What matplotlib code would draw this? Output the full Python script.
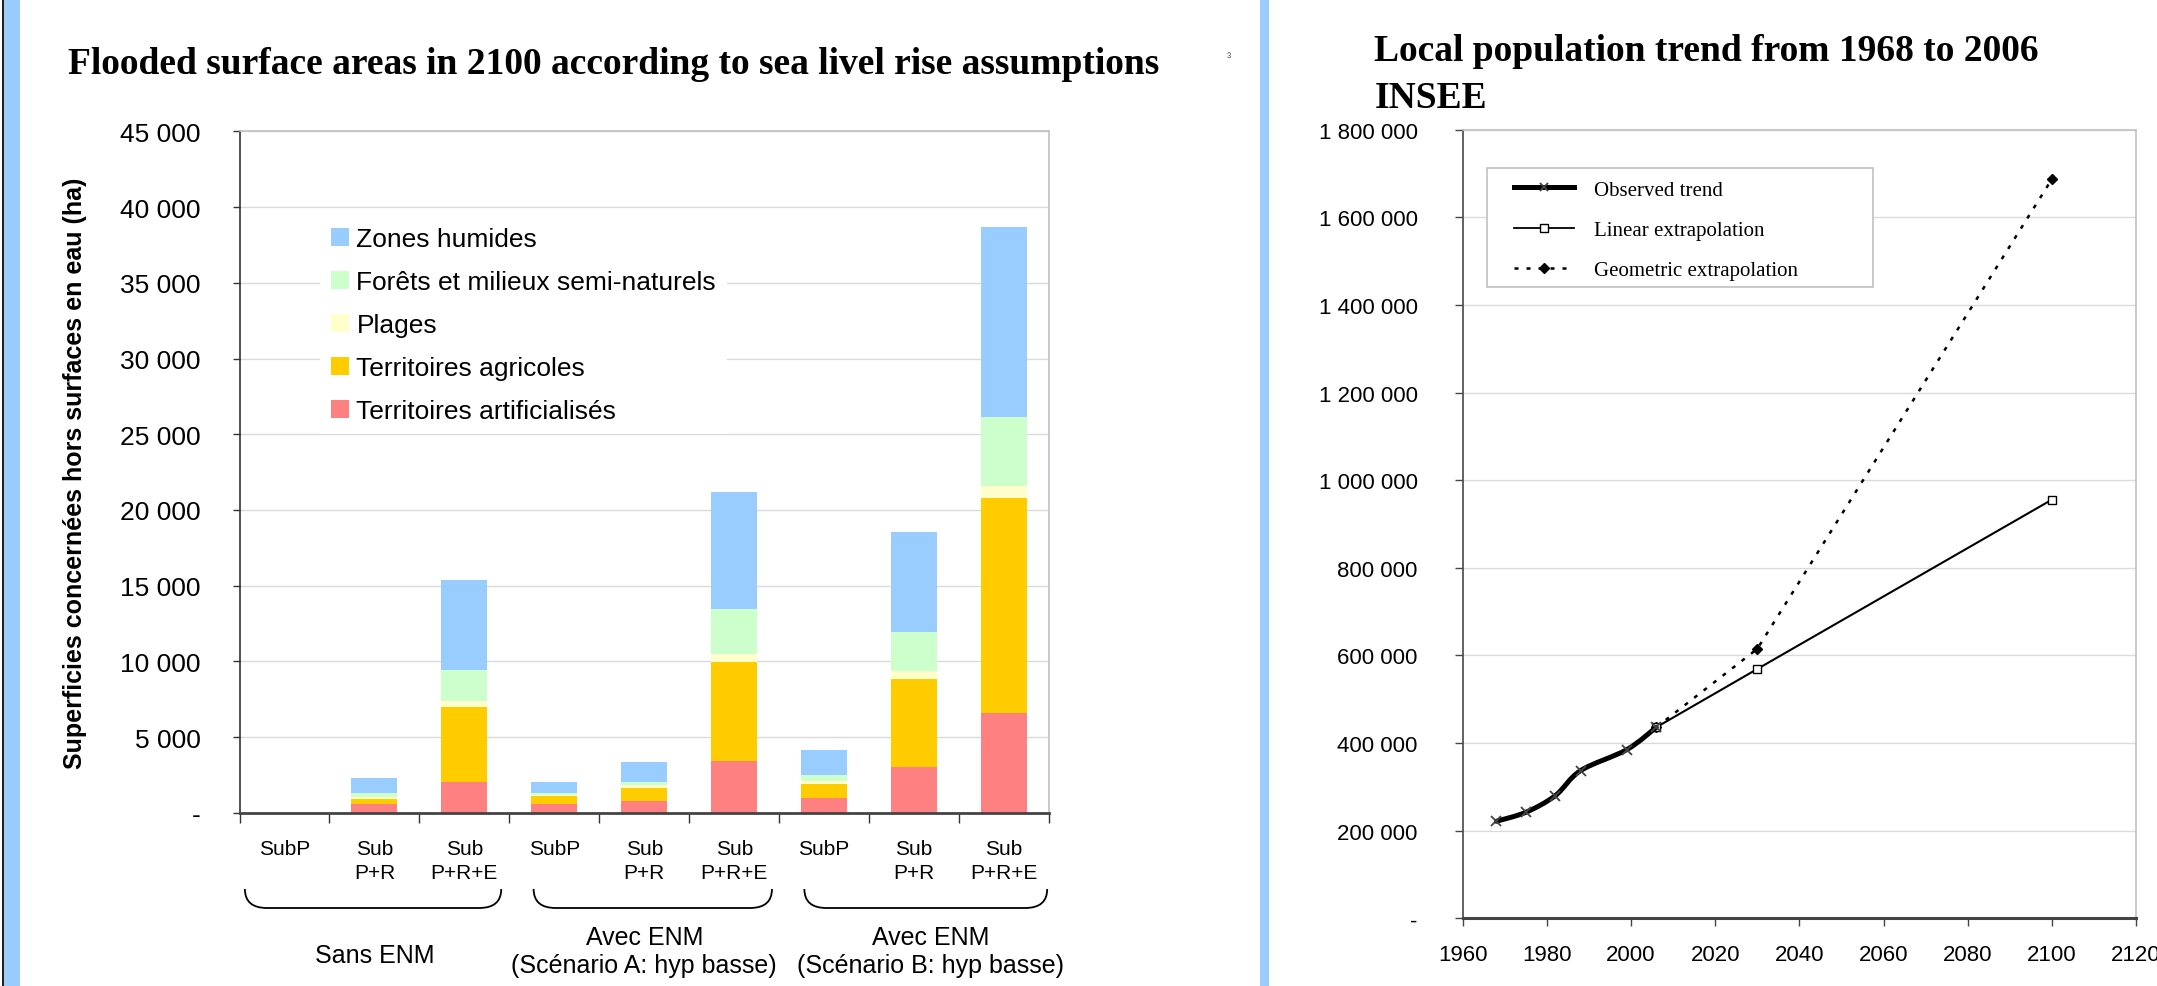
import matplotlib
matplotlib.use("Agg")
import matplotlib.pyplot as plt
import numpy as np
from matplotlib.path import Path
from matplotlib.patches import PathPatch, Patch, Rectangle
from matplotlib.lines import Line2D
from matplotlib.transforms import blended_transform_factory

# ---------------- data: flooded areas (ha) ----------------
bar_labels = ["SubP", "Sub\nP+R", "Sub\nP+R+E",
              "SubP", "Sub\nP+R", "Sub\nP+R+E",
              "SubP", "Sub\nP+R", "Sub\nP+R+E"]
group_labels = ["Sans ENM",
                "Avec ENM\n(Scénario A: hyp basse)",
                "Avec ENM\n(Scénario B: hyp basse)"]
artificialises = [0, 600, 2000, 550, 800, 3400, 1000, 3050, 6600]
agricoles = [0, 300, 5000, 550, 850, 6550, 900, 5800, 14200]
plages = [0, 150, 400, 100, 150, 500, 200, 500, 750]
forets = [0, 250, 2050, 100, 200, 3000, 400, 2600, 4600]
humides = [0, 1000, 5950, 750, 1350, 7750, 1650, 6600, 12550]
land_names = ["Territoires artificialisés", "Territoires agricoles", "Plages",
              "Forêts et milieux semi-naturels", "Zones humides"]
land_colors = ["#FF8080", "#FFCC00", "#FFFFCC", "#CCFFCC", "#99CCFF"]
area_ticks = [0, 5000, 10000, 15000, 20000, 25000, 30000, 35000, 40000, 45000]
area_tick_labels = ["-", "5 000", "10 000", "15 000", "20 000", "25 000",
                    "30 000", "35 000", "40 000", "45 000"]

# ---------------- data: population ----------------
obs_years = [1968, 1975, 1982, 1988, 1999, 2006]
obs_pop = [221500, 242000, 280000, 337000, 385000, 436000]
lin_years = [2006, 2030, 2100]
lin_pop = [436000, 569000, 955500]
geo_years = [2006, 2030, 2100]
geo_pop = [436000, 615000, 1687000]
pop_ticks = [0, 200000, 400000, 600000, 800000, 1000000, 1200000,
             1400000, 1600000, 1800000]
pop_tick_labels = ["-", "200 000", "400 000", "600 000", "800 000",
                   "1 000 000", "1 200 000", "1 400 000", "1 600 000",
                   "1 800 000"]
year_ticks = [1960, 1980, 2000, 2020, 2040, 2060, 2080, 2100, 2120]

SANS = ["Liberation Sans", "DejaVu Sans"]
SERIF = ["Liberation Serif", "DejaVu Serif"]
plt.rcParams["font.family"] = SANS

W, H = 2157, 987
fig = plt.figure(figsize=(W / 100, H / 100), dpi=100)
fig.patch.set_facecolor("white")


def fx(px):
    return px / W


def fy(py):
    return 1 - py / H


# page decorations: side bands
fig.add_artist(Rectangle((fx(1.5), 0), fx(2), 1, transform=fig.transFigure,
                         facecolor="#222222", edgecolor="none"))
fig.add_artist(Rectangle((fx(3.5), 0), fx(16.5), 1, transform=fig.transFigure,
                         facecolor="#99CCFF", edgecolor="none"))
fig.add_artist(Rectangle((fx(1260), 0), fx(9), 1, transform=fig.transFigure,
                         facecolor="#99CCFF", edgecolor="none"))

# ================= left chart: stacked bars =================
L, R, T, B = 239.5, 1049, 132.4, 813.7
ax1 = fig.add_axes([fx(L), fy(B), fx(R) - fx(L), (B - T) / H])
x = np.arange(len(bar_labels))
series = [artificialises, agricoles, plages, forets, humides]
bottom = np.zeros(len(x))
for vals, col in zip(series, land_colors):
    ax1.bar(x, vals, width=0.51, bottom=bottom, color=col, edgecolor="none",
            zorder=2)
    bottom += np.array(vals, dtype=float)

ax1.set_xlim(-0.5, len(x) - 0.5)
ax1.set_ylim(0, 45000)
ax1.set_yticks(area_ticks)
ax1.set_yticklabels(area_tick_labels, fontsize=19)
ax1.tick_params(axis="y", length=5, width=1, color="#333333", pad=23)
ax1.set_xticks(np.arange(-0.5, len(x), 1.0))
ax1.set_xticklabels([])
ax1.tick_params(axis="x", which="major", length=7.5, width=1, color="#333333")
ax1.set_xticks(x, minor=True)
ax1.set_xticklabels(bar_labels, minor=True, fontsize=15, linespacing=1.35)
ax1.tick_params(axis="x", which="minor", length=0, pad=19)
ax1.yaxis.grid(True, color="#dadada", lw=1)
ax1.set_axisbelow(True)
ax1.spines["left"].set_color("#333333")
ax1.spines["left"].set_linewidth(1.2)
ax1.spines["bottom"].set_color("#444444")
ax1.spines["bottom"].set_linewidth(2)
for s in ("top", "right"):
    ax1.spines[s].set_color("#c0c0c0")
    ax1.spines[s].set_linewidth(1.2)

ax1.set_ylabel("Superficies concernées hors surfaces en eau (ha)",
               fontsize=18, fontweight="bold", labelpad=0)
ax1.yaxis.set_label_coords((87 - L) / (R - L), 0.5)

handles = [Patch(facecolor=c, edgecolor="none") for c in land_colors][::-1]
leg1 = ax1.legend(handles, land_names[::-1], loc="upper left",
                  bbox_to_anchor=(0.0995, 0.875), fontsize=19, frameon=True,
                  facecolor="white", edgecolor="none", framealpha=1,
                  fancybox=False, handlelength=0.68, handleheight=0.68,
                  handletextpad=0.3, labelspacing=0.72, borderpad=0.4,
                  borderaxespad=0)
leg1.set_zorder(3)

# group brackets and group captions below the category labels
tr = blended_transform_factory(ax1.transData, ax1.transAxes)
y_top = (B - 890) / (B - T)
y_bot = (B - 909) / (B - T)
rx = 22 / ((R - L) / len(x))
brace_spans = [(-0.44, 2.41), (2.77, 5.42), (5.78, 8.48)]
for x0, x1 in brace_spans:
    verts = [(x0, y_top), (x0, y_bot), (x0 + rx, y_bot), (x1 - rx, y_bot),
             (x1, y_bot), (x1, y_top)]
    codes = [Path.MOVETO, Path.CURVE3, Path.CURVE3, Path.LINETO,
             Path.CURVE3, Path.CURVE3]
    ax1.add_patch(PathPatch(Path(verts, codes), fill=False, ec="black",
                            lw=1.3, transform=tr, clip_on=False))
group_x = [1, 4, 7.18]
group_y = [956, 952, 952]
for gx, gy, lab in zip(group_x, group_y, group_labels):
    ax1.text(gx, (B - gy) / (B - T), lab, transform=tr, ha="center",
             va="center", fontsize=18, linespacing=1.25, clip_on=False)

fig.text(fx(68), fy(73.5),
         "Flooded surface areas in 2100 according to sea livel rise assumptions",
         family=SERIF, fontweight="bold", fontsize=27, ha="left",
         va="baseline")
fig.text(fx(1229), fy(62), "³", fontsize=9, color="#555555", ha="center",
         va="baseline")

# ================= right chart: population =================
L2, R2, T2, B2 = 1462.7, 2136, 130.7, 919.3
ax2 = fig.add_axes([fx(L2), fy(B2), fx(R2) - fx(L2), (B2 - T2) / H])
ax2.set_xlim(1960, 2120)
ax2.set_ylim(0, 1800000)

ax2.plot(geo_years, geo_pop, color="black", lw=1.8, ls=(0, (1.6, 3.2)),
         marker="D", ms=5, mfc="black", mec="black", zorder=3)
ax2.plot(lin_years, lin_pop, color="black", lw=1.5, marker="s", ms=6,
         mfc="white", mec="black", mew=1, zorder=4)

# smoothed observed curve (Bezier through the census points)
pts = np.column_stack([obs_years, obs_pop]).astype(float)
verts = [tuple(pts[0])]
codes = [Path.MOVETO]
n = len(pts)
for i in range(n - 1):
    p0 = pts[i - 1] if i > 0 else pts[i]
    p1, p2 = pts[i], pts[i + 1]
    p3 = pts[i + 2] if i + 2 < n else pts[i + 1]
    verts += [tuple(p1 + (p2 - p0) / 6), tuple(p2 - (p3 - p1) / 6), tuple(p2)]
    codes += [Path.CURVE4] * 3
ax2.add_patch(PathPatch(Path(verts, codes), fill=False, ec="black", lw=3.6,
                        capstyle="round", joinstyle="round", zorder=5))
ax2.plot(obs_years, obs_pop, ls="none", marker="x", ms=7, mew=1.3,
         color="#444444", zorder=6)

ax2.set_yticks(pop_ticks)
ax2.set_yticklabels(pop_tick_labels, fontsize=16)
ax2.tick_params(axis="y", length=5.5, width=1, color="#444444", pad=27)
ax2.set_xticks(year_ticks)
ax2.set_xticklabels([str(y) for y in year_ticks], fontsize=16)
ax2.tick_params(axis="x", length=5.5, width=1, color="#444444", pad=13)
ax2.yaxis.grid(True, color="#dadada", lw=1)
ax2.set_axisbelow(True)
ax2.spines["left"].set_color("#555555")
ax2.spines["left"].set_linewidth(1.3)
ax2.spines["bottom"].set_color("#444444")
ax2.spines["bottom"].set_linewidth(2.2)
for s in ("top", "right"):
    ax2.spines[s].set_color("#c0c0c0")
    ax2.spines[s].set_linewidth(1.2)

# legend box drawn separately so the entries can sit with a wide margin
tr2 = ax2.transAxes


def ax2_frac(px, py):
    return (px - L2) / (R2 - L2), (B2 - py) / (B2 - T2)


bx0, by0 = ax2_frac(1487, 288)
bx1, by1 = ax2_frac(1873, 169)
ax2.add_patch(Rectangle((bx0, by0), bx1 - bx0, by1 - by0, transform=tr2,
                        facecolor="white", edgecolor="#c0c0c0", lw=1.2,
                        zorder=7))
leg_handles = [
    Line2D([], [], color="black", lw=3.6, marker="x", ms=6, mew=1.3,
           mec="#444444"),
    Line2D([], [], color="black", lw=1.3, marker="s", ms=6, mfc="white",
           mec="black"),
    Line2D([], [], color="black", lw=1.8, ls=(0, (1.6, 3.2)), marker="D",
           ms=5, mfc="black"),
]
leg2 = ax2.legend(leg_handles, ["Observed trend", "Linear extrapolation",
                                "Geometric extrapolation"],
                  loc="upper left", bbox_to_anchor=ax2_frac(1514, 181),
                  prop={"family": SERIF, "size": 15}, frameon=False,
                  handlelength=2.9, handletextpad=0.95,
                  labelspacing=1.0, borderpad=0, borderaxespad=0)
leg2.set_zorder(8)

fig.text(fx(1374.5), fy(61), "Local population trend from 1968 to 2006",
         family=SERIF, fontweight="bold", fontsize=27, ha="left",
         va="baseline")
fig.text(fx(1374.5), fy(108), "INSEE", family=SERIF, fontweight="bold",
         fontsize=27, ha="left", va="baseline")

fig.savefig("out.png", dpi=100, facecolor="white")
